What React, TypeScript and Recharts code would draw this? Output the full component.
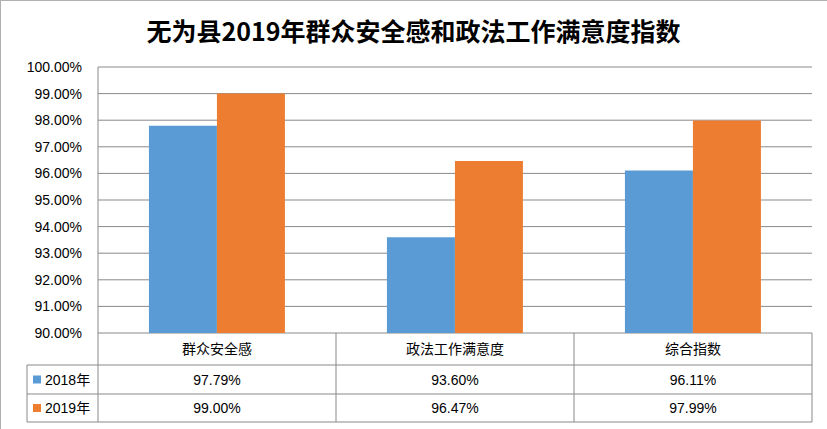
import React from 'react';
import { BarChart, Bar, XAxis, YAxis, CartesianGrid } from 'recharts';

const categories = ['群众安全感', '政法工作满意度', '综合指数'];
const values2018 = [97.79, 93.6, 96.11];
const values2019 = [99.0, 96.47, 97.99];
const yTicks = [90, 91, 92, 93, 94, 95, 96, 97, 98, 99, 100];
const seriesNames = ['2018年', '2019年'];

const BLUE = '#5B9BD5';
const ORANGE = '#ED7D31';
const LINE = '#898989';
const FONT = "'Liberation Sans', 'Noto Sans CJK SC', sans-serif";

const W = 827;
const H = 429;
const PLOT_LEFT = 98;
const PLOT_RIGHT = 812;
const PLOT_TOP = 67;
const PLOT_BOTTOM = 333;
const BAND = (PLOT_RIGHT - PLOT_LEFT) / categories.length;
const TABLE_LEFT = 27;
// row bottoms measured from the plot bottom
const ROW1 = 32;
const ROW2 = 61;
const ROW3 = 89;

const data = categories.map((name, i) => ({
    name,
    v2018: values2018[i],
    v2019: values2019[i],
}));

const pct = (v: number) => `${v.toFixed(2)}%`;

const TableTick: React.FC<any> = ({ x, y, payload, index }) => {
    const i = index ?? 0;
    const left = x - BAND / 2;
    const right = x + BAND / 2;
    const top = y;
    return (
        <g>
            {/* cell borders */}
            <line x1={right} y1={top} x2={right} y2={top + ROW3} stroke={LINE} />
            <line x1={left} y1={top + ROW1} x2={right} y2={top + ROW1} stroke={LINE} />
            <line x1={left} y1={top + ROW2} x2={right} y2={top + ROW2} stroke={LINE} />
            <line x1={left} y1={top + ROW3} x2={right} y2={top + ROW3} stroke={LINE} />
            <text x={x} y={top + ROW1 / 2} textAnchor="middle" dominantBaseline="central" fontSize={14} fill="#000" fontFamily={FONT}>
                {payload.value}
            </text>
            <text x={x} y={top + (ROW1 + ROW2) / 2} textAnchor="middle" dominantBaseline="central" fontSize={14} fill="#000" fontFamily={FONT}>
                {pct(values2018[i])}
            </text>
            <text x={x} y={top + (ROW2 + ROW3) / 2} textAnchor="middle" dominantBaseline="central" fontSize={14} fill="#000" fontFamily={FONT}>
                {pct(values2019[i])}
            </text>
            {i === 0 && (
                <g>
                    <line x1={left} y1={top} x2={left} y2={top + ROW3} stroke={LINE} />
                    <line x1={TABLE_LEFT} y1={top + ROW1} x2={left} y2={top + ROW1} stroke={LINE} />
                    <line x1={TABLE_LEFT} y1={top + ROW2} x2={left} y2={top + ROW2} stroke={LINE} />
                    <line x1={TABLE_LEFT} y1={top + ROW3} x2={left} y2={top + ROW3} stroke={LINE} />
                    <line x1={TABLE_LEFT} y1={top + ROW1} x2={TABLE_LEFT} y2={top + ROW3} stroke={LINE} />
                    {seriesNames.map((s, k) => {
                        const cy = top + (k === 0 ? (ROW1 + ROW2) / 2 : (ROW2 + ROW3) / 2);
                        return (
                            <g key={s}>
                                <rect x={33} y={cy - 4} width={8} height={8} fill={k === 0 ? BLUE : ORANGE} />
                                <text x={45} y={cy} dominantBaseline="central" fontSize={14} fill="#000" fontFamily={FONT}>
                                    {s}
                                </text>
                            </g>
                        );
                    })}
                </g>
            )}
        </g>
    );
};

export default function App() {
    return (
        <div style={{ position: 'absolute', left: 0, top: 0, width: W, height: H, background: '#fff', overflow: 'hidden' }}>
            <div style={{ position: 'absolute', left: 0, top: 0, width: W, height: H, borderLeft: '1px solid #b0b0b0', borderTop: '1px solid #b0b0b0', boxSizing: 'border-box' }} />
            <div
                style={{
                    position: 'absolute',
                    left: 0,
                    top: 12,
                    width: W,
                    textAlign: 'center',
                    fontFamily: "'Noto Sans CJK SC', sans-serif",
                    fontWeight: 'bold',
                    fontSize: 25,
                    lineHeight: '36px',
                    color: '#000',
                }}
            >
                无为县2019年群众安全感和政法工作满意度指数
            </div>
            <div style={{ position: 'absolute', left: 0, top: 0 }}>
                <BarChart
                    width={W}
                    height={H}
                    data={data}
                    margin={{ top: PLOT_TOP, right: W - PLOT_RIGHT, left: PLOT_LEFT - 70, bottom: H - PLOT_BOTTOM - 90 }}
                    barCategoryGap="21.4%"
                    barGap={0}
                >
                    <CartesianGrid horizontal vertical={false} stroke={LINE} />
                    <YAxis
                        width={70}
                        domain={[90, 100]}
                        ticks={yTicks}
                        allowDataOverflow
                        tickFormatter={pct}
                        tickLine={false}
                        tickSize={0}
                        tickMargin={16}
                        axisLine={{ stroke: LINE }}
                        tick={{ fontSize: 14, fill: '#000', fontFamily: FONT }}
                    />
                    <XAxis
                        dataKey="name"
                        height={90}
                        axisLine={false}
                        tickLine={false}
                        tickSize={0}
                        tickMargin={0}
                        interval={0}
                        tick={<TableTick />}
                    />
                    <Bar dataKey="v2018" name={seriesNames[0]} fill={BLUE} isAnimationActive={false} />
                    <Bar dataKey="v2019" name={seriesNames[1]} fill={ORANGE} isAnimationActive={false} />
                </BarChart>
            </div>
        </div>
    );
}
